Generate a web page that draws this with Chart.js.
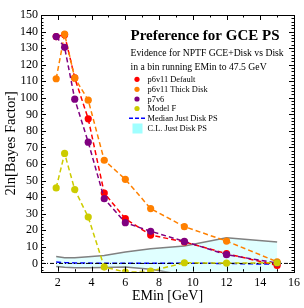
<!DOCTYPE html>
<html>
<head>
<meta charset="utf-8">
<script src="https://cdn.jsdelivr.net/npm/chart.js@4.4.0/dist/chart.umd.min.js"></script>
<style>
body{margin:0;background:#fff}
</style>
</head>
<body>
<canvas id="chart" width="304" height="308"></canvas>
<script>
// EMin bins (GeV)
const emin = [1.9, 2.4, 3.0, 3.8, 4.75, 6.0, 7.5, 9.5, 12.0, 15.0]

// 2ln[Bayes factor] per model
const p6v11Default = [137, 138, 112, 87.3, 42.5, 27.0, 17.1, 13.0, 5.9, -1.2]
const p6v11Thick = [111.5, 138.5, 112, 98.6, 62.3, 50.8, 33.1, 22.2, 13.5, 1.0]
const p7v6 = [137, 130.5, 99.2, 73.2, 39.1, 24.6, 19.4, 13.3, 5.3, 0.2]
const modelF = [45.6, 66.4, 44.6, 28.0, -2.2, -5.2, -4.7, 0.4, 0.2, 0.4]

// just disk PS: median and C.L. band
const diskMedian = [0.8, 0.5, 0.3, 0.2, 0.1, 0.1, 0.1, 0.1, 0.0, -0.5]
const diskUpper = [4.2, 3.4, 3.4, 4.0, 4.8, 6.9, 8.9, 10.5, 15.5, 12.9]
const diskLower = [-1.8, -2.3, -2.6, -2.6, -2.4, -2.2, -3.5, -7, -8, -8]

const xTicks = [2, 4, 6, 8, 10, 12, 14, 16]
const yTicks = [0, 10, 20, 30, 40, 50, 60, 70, 80, 90, 100, 110, 120, 130, 140, 150]

const titleText = "Preference for GCE PS"
const subText = ["Evidence for NPTF GCE+Disk vs Disk", "in a bin running EMin to 47.5 GeV"]
const legendItems = ["p6v11 Default", "p6v11 Thick Disk", "p7v6", "Model F", "Median Just Disk PS", "C.L. Just Disk PS"]
const colors = ["#ff0000", "#ff8000", "#800080", "#cccc00"]

const SERIF = '"Liberation Serif", "DejaVu Serif", serif'

function pts(vals){
return emin.map((x,i)=>({x:x, y:vals[i]}))
}

function series(label, vals, color, order){
return {
label:label,
data:pts(vals),
borderColor:color,
backgroundColor:color,
borderWidth:1.5,
borderDash:[5,3],
pointRadius:3.6,
pointBorderWidth:0,
pointBackgroundColor:color,
fill:false,
order:order
}
}

// frame + inward ticks on all four sides
const frameTicks = {
id:"frameTicks",
afterDatasetsDraw(chart){
const {ctx, chartArea:a, scales:{x, y}} = chart
ctx.save()
ctx.strokeStyle = "#000"
ctx.lineWidth = 1
ctx.beginPath()
for(let v=1; v<=16; v++){
let len = v%2==0 ? 5 : 2.5
let px = Math.round(x.getPixelForValue(v))+0.5
ctx.moveTo(px, a.bottom); ctx.lineTo(px, a.bottom-len)
ctx.moveTo(px, a.top); ctx.lineTo(px, a.top+len)
}
for(let v=-4; v<=150; v+=2){
let len = v%10==0 ? 5 : 2.5
let py = Math.round(y.getPixelForValue(v))+0.5
ctx.moveTo(a.left, py); ctx.lineTo(a.left+len, py)
ctx.moveTo(a.right, py); ctx.lineTo(a.right-len, py)
}
ctx.stroke()
ctx.strokeRect(Math.round(a.left)+0.5, Math.round(a.top)+0.5, Math.round(a.right-a.left), Math.round(a.bottom-a.top))
ctx.restore()
}
}

// title text + legend box in the upper right
const legendBox = {
id:"legendBox",
afterDraw(chart){
const ctx = chart.ctx
ctx.save()
ctx.fillStyle = "#000"
ctx.textAlign = "left"
ctx.textBaseline = "alphabetic"
ctx.font = "bold 15px " + SERIF
ctx.fillText(titleText, 130.5, 40)
ctx.font = "9.7px " + SERIF
ctx.fillText(subText[0], 130.5, 55.5)
ctx.fillText(subText[1], 130.5, 69.5)

let rows = [79.3, 89.3, 99, 108.5, 118.3, 128.5]
ctx.font = "8.4px " + SERIF
ctx.textBaseline = "middle"
legendItems.forEach((t,i)=>{
let cy = rows[i]
if(i<4){
ctx.fillStyle = colors[i]
ctx.beginPath()
ctx.arc(137, cy, 2.6, 0, Math.PI*2)
ctx.fill()
} else if(i==4){
ctx.strokeStyle = "#0000ff"
ctx.lineWidth = 1.5
ctx.setLineDash([4,2])
ctx.beginPath()
ctx.moveTo(129, cy); ctx.lineTo(145, cy)
ctx.stroke()
ctx.setLineDash([])
} else {
ctx.fillStyle = "#a0ffff"
ctx.fillRect(132.5, cy-5, 10, 10)
}
ctx.fillStyle = "#000"
ctx.fillText(t, 147.5, cy+0.5)
})
ctx.restore()
}
}

new Chart(document.getElementById("chart"),{
type:"line",
data:{
datasets:[
{
label:"upper",
data:pts(diskUpper),
borderColor:"#808080",
borderWidth:1.5,
pointRadius:0,
backgroundColor:"rgba(160,255,255,0.32)",
fill:"+1",
order:8
},
{
label:"lower",
data:pts(diskLower),
borderColor:"#808080",
borderWidth:1.5,
pointRadius:0,
fill:false,
order:7
},
{
label:"Median Just Disk PS",
data:pts(diskMedian),
borderColor:"#0000ff",
borderWidth:1.5,
borderDash:[5,3],
pointRadius:0,
fill:false,
order:6
},
{
label:"zero",
data:[{x:1,y:0},{x:16,y:0}],
borderColor:"#000",
borderWidth:1,
borderDash:[4,2,1,2],
pointRadius:0,
fill:false,
order:5
},
series("p6v11 Default", p6v11Default, colors[0], 4),
series("p6v11 Thick Disk", p6v11Thick, colors[1], 3),
series("p7v6", p7v6, colors[2], 2),
series("Model F", modelF, colors[3], 1)
]
},
options:{
responsive:false,
animation:false,
events:[],
layout:{padding:{left:0, right:8, top:15, bottom:0}},
plugins:{legend:{display:false}, tooltip:{enabled:false}},
scales:{
x:{
type:"linear",
min:1,
max:16,
grid:{display:false, drawTicks:false},
border:{display:false},
afterFit(s){ s.height = 36.3 },
afterBuildTicks(s){ s.ticks = xTicks.map(v=>({value:v})) },
ticks:{
color:"#000",
font:{family:SERIF, size:12},
padding:4,
maxRotation:0,
autoSkip:false
},
title:{
display:true,
text:"EMin [GeV]",
color:"#000",
font:{family:SERIF, size:14},
padding:{top:0, bottom:3}
}
},
y:{
type:"linear",
min:-5,
max:150,
grid:{display:false, drawTicks:false},
border:{display:false},
afterFit(s){ s.width = 41 },
afterBuildTicks(s){ s.ticks = yTicks.map(v=>({value:v})) },
ticks:{
color:"#000",
font:{family:SERIF, size:12},
padding:3,
autoSkip:false
},
title:{
display:true,
text:"2ln[Bayes Factor]",
color:"#000",
font:{family:SERIF, size:14.5},
padding:{top:2, bottom:0}
}
}
}
},
plugins:[frameTicks, legendBox]
})
</script>
</body>
</html>
